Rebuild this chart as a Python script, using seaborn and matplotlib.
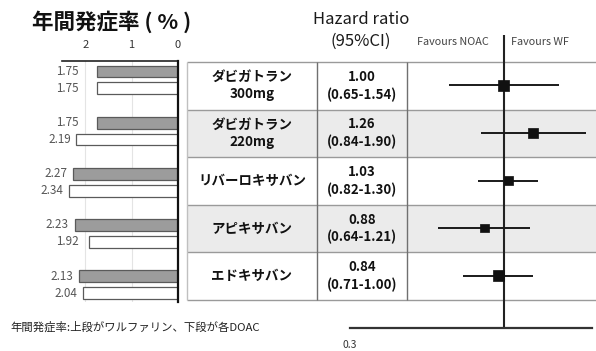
import numpy as np
import pandas as pd
import matplotlib
matplotlib.use("Agg")
import matplotlib.pyplot as plt
from matplotlib.patches import Rectangle
from matplotlib.ticker import NullLocator
import seaborn as sns

# ---- data ----
drugs = ["ダビガトラン\n300mg", "ダビガトラン\n220mg", "リバーロキサバン", "アピキサバン", "エドキサバン"]
warfarin_rate = [1.75, 1.75, 2.27, 2.23, 2.13]
doac_rate = [1.75, 2.19, 2.34, 1.92, 2.04]
# text in the table
hr_text = ["1.00", "1.26", "1.03", "0.88", "0.84"]
ci_text = ["(0.65-1.54)", "(0.84-1.90)", "(0.82-1.30)", "(0.64-1.21)", "(0.71-1.00)"]
# marks as drawn in the forest plot
hr = [1.00, 1.26, 1.04, 0.86, 0.96]
ci_low = [0.65, 0.84, 0.82, 0.60, 0.73]
ci_high = [1.55, 1.91, 1.31, 1.23, 1.26]
rate_ticks = [2, 1, 0]
hr_ticks = [0.3]
groups = ["ワルファリン", "DOAC"]

# ---- style ----
sns.set_theme(style="white")
plt.rcParams["font.family"] = ["Noto Sans CJK JP", "DejaVu Sans"]

W, H = 596, 351
fig = plt.figure(figsize=(W / 100, H / 100), dpi=100)


def rect(x0, y0, x1, y1):
    return [x0 / W, 1 - y1 / H, (x1 - x0) / W, (y1 - y0) / H]


# background axes in pixel coordinates (table, headers)
bg = fig.add_axes([0, 0, 1, 1])
bg.set_xlim(0, W)
bg.set_ylim(H, 0)
bg.axis("off")

tab_x0, tab_x1 = 187, 596
tab_y0, tab_y1 = 62, 300
row_h = (tab_y1 - tab_y0) / len(drugs)
col1_x, col2_x = 317, 407
for i in range(len(drugs)):
    y0 = tab_y0 + i * row_h
    if i % 2 == 1:
        bg.add_patch(Rectangle((tab_x0, y0), tab_x1 - tab_x0, row_h,
                               facecolor="#ebebeb", edgecolor="none", zorder=0))
    yc = y0 + row_h / 2
    bg.text((tab_x0 + col1_x) / 2, yc, drugs[i], ha="center", va="center",
            fontsize=9.7, fontweight="bold", color="#111", linespacing=1.3)
    bg.text((col1_x + col2_x) / 2, yc, f"{hr_text[i]}\n{ci_text[i]}",
            ha="center", va="center", fontsize=9.5, fontweight="bold",
            color="#111", linespacing=1.3)
bg.hlines([tab_y0 + i * row_h for i in range(len(drugs) + 1)], tab_x0, tab_x1,
          color="#9a9a9a", lw=1, zorder=1)
bg.vlines([tab_x0], tab_y0, tab_y1, color="#c0c0c0", lw=1, zorder=1)
bg.vlines([col1_x, col2_x], tab_y0, tab_y1, color="#707070", lw=1, zorder=1)

# headers
bg.text(32, 22, "年間発症率 ( % )", ha="left", va="center", fontsize=15.5,
        fontweight="bold", color="#111")
bg.text(361, 20, "Hazard ratio", ha="center", va="center", fontsize=12, color="#1a1a1a")
bg.text(361, 41, "(95%CI)", ha="center", va="center", fontsize=12, color="#1a1a1a")
bg.text(453, 42, "Favours NOAC", ha="center", va="center", fontsize=7.8, color="#444")
bg.text(540, 42, "Favours WF", ha="center", va="center", fontsize=7.8, color="#444")
bg.text(10, 327, "年間発症率:上段がワルファリン、下段が各DOAC", ha="left",
        va="center", fontsize=8.2, color="#222")

# ---- left bar chart ----
ax_bar = fig.add_axes(rect(62, 61, 178, 302))
ax_bar.set_facecolor("none")
df = pd.DataFrame({
    "drug": drugs * 2,
    "rate": warfarin_rate + doac_rate,
    "group": [groups[0]] * len(drugs) + [groups[1]] * len(drugs),
})
sns.barplot(data=df, x="rate", y="drug", hue="group", orient="h",
            width=0.66, gap=0.3, palette={groups[0]: "#9c9c9c", groups[1]: "white"},
            edgecolor="#5a5a5a", linewidth=0.9, saturation=1, legend=False,
            ax=ax_bar, zorder=3)
ax_bar.set_xlim(2.5, 0)
ax_bar.set_ylim(4.34, -0.37)
ax_bar.xaxis.tick_top()
ax_bar.set_xticks(rate_ticks)
ax_bar.set_xticklabels([str(t) for t in rate_ticks])
ax_bar.tick_params(axis="x", length=0, pad=8, labelsize=8, colors="#333")
ax_bar.set_yticks([])
ax_bar.set_xlabel("")
ax_bar.set_ylabel("")
ax_bar.grid(axis="x", color="#e4e4e4", lw=0.8)
ax_bar.set_axisbelow(True)
for s in ["left", "bottom"]:
    ax_bar.spines[s].set_visible(False)
ax_bar.spines["top"].set_color("#222")
ax_bar.spines["top"].set_linewidth(1.2)
ax_bar.spines["right"].set_color("#111")
ax_bar.spines["right"].set_linewidth(1.6)
ax_bar.spines["right"].set_zorder(5)

for p in ax_bar.patches:
    v = p.get_width()
    if v <= 0:
        continue
    yc = p.get_y() + p.get_height() / 2
    ax_bar.text(max(v + 0.12, 2.14), yc, f"{v:.2f}", ha="right", va="center",
                fontsize=8.4, color="#555", clip_on=False)

# ---- forest plot ----
ax_f = fig.add_axes(rect(350, 35, 592, 328))
ax_f.set_facecolor("none")
ypos = np.arange(len(drugs))
ax_f.hlines(ypos, ci_low, ci_high, color="#1a1a1a", lw=1.4, zorder=3)
sns.scatterplot(x=hr, y=ypos, marker="s", s=[55, 52, 45, 38, 62],
                color="#111", edgecolor="#111", linewidth=0.5, ax=ax_f, zorder=4,
                legend=False)
ax_f.axvline(1, color="#222", lw=1.5, zorder=2)
ax_f.set_xscale("log")
ax_f.set_xlim(0.3, 2.0)
ax_f.set_ylim(5.105, -1.063)
ax_f.set_xticks(hr_ticks)
ax_f.set_xticklabels([str(t) for t in hr_ticks])
ax_f.xaxis.set_minor_locator(NullLocator())
ax_f.tick_params(axis="x", length=0, pad=9, labelsize=7.5, colors="#333")
ax_f.set_yticks([])
ax_f.set_xlabel("")
ax_f.set_ylabel("")
for s in ["left", "right", "top"]:
    ax_f.spines[s].set_visible(False)
ax_f.spines["bottom"].set_color("#333")
ax_f.spines["bottom"].set_linewidth(1.6)

fig.savefig("out.png", dpi=100)
